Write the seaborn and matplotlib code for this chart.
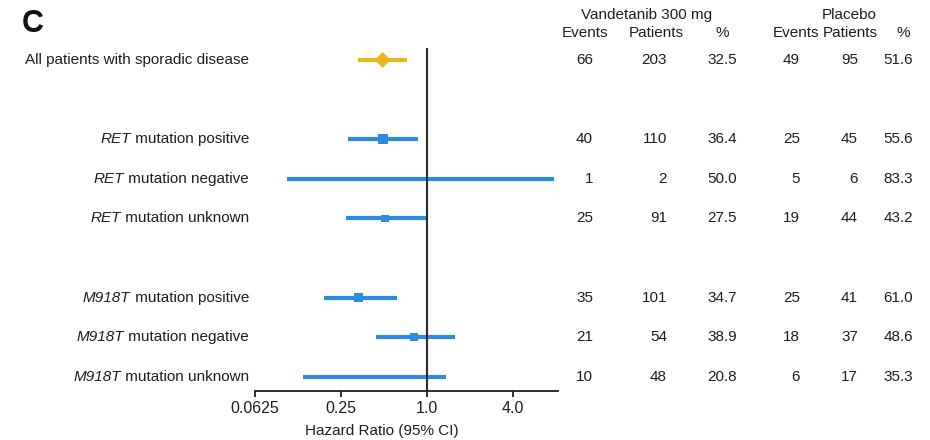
import numpy as np
import pandas as pd
import matplotlib
matplotlib.use("Agg")
import matplotlib.pyplot as plt
import matplotlib.transforms as mtransforms
import seaborn as sns

# ---- data -------------------------------------------------------------
groups = [
    [("", "All patients with sporadic disease")],
    [("RET", " mutation positive"),
     ("RET", " mutation negative"),
     ("RET", " mutation unknown")],
    [("M918T", " mutation positive"),
     ("M918T", " mutation negative"),
     ("M918T", " mutation unknown")],
]
hazard_ratio = [0.49, 0.49, 1.00, 0.51, 0.33, 0.81, 0.43]
ci_low = [0.33, 0.28, 0.105, 0.27, 0.19, 0.44, 0.135]
ci_high = [0.73, 0.86, 7.8, 0.98, 0.62, 1.58, 1.37]

vand_events = [66, 40, 1, 25, 35, 21, 10]
vand_patients = [203, 110, 2, 91, 101, 54, 48]
vand_pct = [32.5, 36.4, 50.0, 27.5, 34.7, 38.9, 20.8]
plac_events = [49, 25, 5, 19, 25, 18, 6]
plac_patients = [95, 45, 6, 44, 41, 37, 17]
plac_pct = [51.6, 55.6, 83.3, 43.2, 61.0, 48.6, 35.3]

xticks = [0.0625, 0.25, 1.0, 4.0]
xtick_labels = ["0.0625", "0.25", "1.0", "4.0"]

# ---- layout helpers ---------------------------------------------------
gene, rest, rows = [], [], []
pos = 0
for g in groups:
    for it, tail in g:
        gene.append(it)
        rest.append(tail)
        rows.append(pos)
        pos += 1
    pos += 1

df = pd.DataFrame({
    "gene": gene, "rest": rest, "row": rows, "hr": hazard_ratio,
    "lo": ci_low, "hi": ci_high,
})
# inverse-variance weight from the confidence interval -> marker side
se = (np.log(df["hi"]) - np.log(df["lo"])) / 3.92
df["weight"] = 1.0 / se ** 2
df["area"] = (df["weight"] * 0.8 * 0.72) ** 2

sns.set_style("white")
plt.rcParams["font.family"] = ["Liberation Sans", "DejaVu Sans"]

W, H = 930, 440
fig = plt.figure(figsize=(W / 100, H / 100), dpi=100)
ax = fig.add_axes([255 / W, 1 - 391 / H, 303 / W, (391 - 48) / H])

blue = "#2E8BE3"
gold = "#E6B81C"
text_col = "#1e1e1e"
fs = 11

overall = df.iloc[:1]
subs = df.iloc[1:]

# confidence intervals
ax.hlines(subs["row"], subs["lo"], subs["hi"], color=blue, lw=3, zorder=2)
ax.hlines(overall["row"], overall["lo"], overall["hi"], color=gold, lw=3, zorder=2)

# point estimates
amin, amax = subs["area"].min(), subs["area"].max()
sns.scatterplot(data=subs, x="hr", y="row", size="area", sizes=(amin, amax),
                size_norm=(amin, amax), marker="s", color=blue,
                edgecolor="none", legend=False, ax=ax, zorder=3)
sns.scatterplot(data=overall, x="hr", y="row", marker="D", s=66, color=gold,
                edgecolor="none", legend=False, ax=ax, zorder=3)

ax.axvline(1.0, color="#2a2a2a", lw=1.5, zorder=4)

ax.set_xscale("log", base=2)
ax.set_xlim(2 ** -4, 2 ** 3.05)
ax.set_ylim(8.36, -0.30)
ax.set_xticks(xticks)
ax.set_xticklabels(xtick_labels)
ax.minorticks_off()
ax.set_yticks([])
ax.set_ylabel("")
ax.set_xlabel("")
for s in ["top", "right", "left"]:
    ax.spines[s].set_visible(False)
ax.spines["bottom"].set_color("#1e1e1e")
ax.spines["bottom"].set_linewidth(1.3)
ax.tick_params(axis="x", direction="out", length=4, width=1.3, color="#1e1e1e",
               pad=3, labelsize=11.5, labelcolor=text_col, bottom=True)
ax.patch.set_alpha(0)

fig.text(382 / W, 1 - 431 / H, "Hazard Ratio (95% CI)", ha="center",
         va="center", fontsize=11, color=text_col)

# ---- row labels and table --------------------------------------------
tr = mtransforms.blended_transform_factory(fig.transFigure, ax.transData)
for it, tail, r in zip(df["gene"], df["rest"], df["row"]):
    t = fig.text(249 / W, r, tail, transform=tr, ha="right", va="center",
                 fontsize=fs, color=text_col)
    if it:
        ax.annotate(it, xy=(0, 0), xycoords=t, ha="right", va="bottom",
                    fontsize=fs, color=text_col, style="italic",
                    annotation_clip=False)

columns = [
    (593, vand_events, "{:d}"),
    (667, vand_patients, "{:d}"),
    (737, vand_pct, "{:.1f}"),
    (800, plac_events, "{:d}"),
    (858, plac_patients, "{:d}"),
    (913, plac_pct, "{:.1f}"),
]
for xpx, vals, fmt in columns:
    for v, r in zip(vals, df["row"]):
        fig.text(xpx / W, r, fmt.format(v), transform=tr, ha="right",
                 va="center", fontsize=fs, color=text_col)

fig.text(647 / W, 1 - 15 / H, "Vandetanib 300 mg", ha="center", va="center",
         fontsize=fs, color=text_col)
fig.text(849 / W, 1 - 15 / H, "Placebo", ha="center", va="center",
         fontsize=fs, color=text_col)
for xpx, h in [(585, "Events"), (656, "Patients"), (722, "%"),
               (796, "Events"), (850, "Patients"), (903, "%")]:
    fig.text(xpx / W, 1 - 33 / H, h, ha="center", va="center",
             fontsize=fs, color=text_col)

fig.text(22 / W, 1 - 24 / H, "C", ha="left", va="center", fontsize=22,
         fontweight="bold", color="#111111")

fig.savefig("out.png", dpi=100)
